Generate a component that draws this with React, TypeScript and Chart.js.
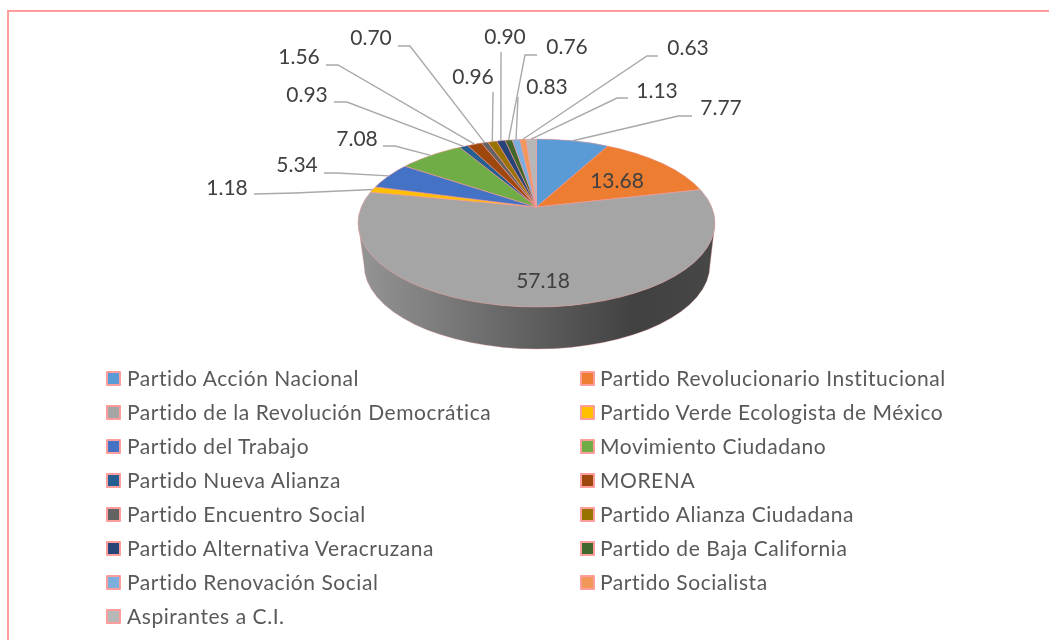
import React, { useEffect, useRef } from "react";
import { Chart, registerables } from "chart.js";

Chart.register(...registerables);

const categories = [
  "Partido Acción Nacional",
  "Partido Revolucionario Institucional",
  "Partido de la Revolución Democrática",
  "Partido Verde Ecologista de México",
  "Partido del Trabajo",
  "Movimiento Ciudadano",
  "Partido Nueva Alianza",
  "MORENA",
  "Partido Encuentro Social",
  "Partido Alianza Ciudadana",
  "Partido Alternativa Veracruzana",
  "Partido de Baja California",
  "Partido Renovación Social",
  "Partido Socialista",
  "Aspirantes a C.I.",
];
const values = [7.77, 13.68, 57.18, 1.18, 5.34, 7.08, 0.93, 1.56, 0.7, 0.96, 0.9, 0.76, 0.83, 0.63, 1.13];
const valueLabels = ["7.77", "13.68", "57.18", "1.18", "5.34", "7.08", "0.93", "1.56", "0.70", "0.96", "0.90", "0.76", "0.83", "0.63", "1.13"];
const colors = ["#5B9BD5", "#ED7D31", "#A5A5A5", "#FFC000", "#4472C4", "#70AD47", "#255E91", "#9E480E", "#636363", "#997300", "#264478", "#43682B", "#7CAFDD", "#F1975A", "#B7B7B7"];

// Label placement: text centre and leader elbow points; no elbow = label inside the slice
type Place = { x: number; y: number; elbow?: number[][] };
const places: Place[] = [
  { x: 721, y: 108, elbow: [[692, 116], [678, 116]] },
  { x: 617, y: 181 },
  { x: 543, y: 281 },
  { x: 227, y: 188, elbow: [[254, 194], [295, 193]] },
  { x: 297, y: 165, elbow: [[324, 173], [337, 173]] },
  { x: 357, y: 139, elbow: [[383, 146], [395, 146]] },
  { x: 307, y: 95, elbow: [[334, 102], [347, 102]] },
  { x: 299, y: 57, elbow: [[326, 65], [338, 65]] },
  { x: 371, y: 38, elbow: [[398, 46], [410, 46]] },
  { x: 473, y: 77, elbow: [[493, 92]] },
  { x: 505, y: 37, elbow: [[501, 52]] },
  { x: 567, y: 47, elbow: [[537, 55], [525, 55]] },
  { x: 547, y: 87, elbow: [[518, 97]] },
  { x: 688, y: 48, elbow: [[658, 56], [647, 56]] },
  { x: 657, y: 91, elbow: [[628, 98], [617, 98]] },
];

const W = 1049;
const H = 640;
const APEX = { x: 536.5, y: 207 };
const TOP = { x: 536.5, y: 223, rx: 178.5, ry: 84 };
const BOTTOM = { x: 537, y: 265, rx: 173, ry: 84 };
const TILT = 0.45;
const PINK = "#FF9C9C";
const FONT = "Lato";

const pie3d = {
  id: "pie3d",
  beforeDatasetsDraw(chart: any) {
    const ctx = chart.ctx;
    const arc0 = chart.getDatasetMeta(0).data[0];
    // wall
    ctx.save();
    const g = ctx.createLinearGradient(TOP.x - TOP.rx, 0, TOP.x + TOP.rx, 0);
    g.addColorStop(0, "#959595");
    g.addColorStop(0.3, "#747474");
    g.addColorStop(0.55, "#585858");
    g.addColorStop(0.78, "#414141");
    g.addColorStop(1, "#474747");
    ctx.beginPath();
    ctx.moveTo(TOP.x - TOP.rx, TOP.y);
    ctx.lineTo(BOTTOM.x - BOTTOM.rx, BOTTOM.y);
    ctx.ellipse(BOTTOM.x, BOTTOM.y, BOTTOM.rx, BOTTOM.ry, 0, Math.PI, 0, true);
    ctx.lineTo(TOP.x + TOP.rx, TOP.y);
    ctx.closePath();
    ctx.fillStyle = g;
    ctx.fill();
    ctx.strokeStyle = "rgba(255,156,156,0.55)";
    ctx.lineWidth = 0.6;
    ctx.stroke();
    ctx.restore();
    // top face: slices come out of the apex, clipped by the ellipse
    ctx.save();
    ctx.beginPath();
    ctx.ellipse(TOP.x, TOP.y, TOP.rx, TOP.ry, 0, 0, Math.PI * 2);
    ctx.fillStyle = "#A5A5A5";
    ctx.fill();
    ctx.clip();
    ctx.translate(APEX.x, APEX.y);
    ctx.scale(1, TILT);
    ctx.translate(-arc0.x, -arc0.y);
  },
  afterDatasetsDraw(chart: any) {
    const ctx = chart.ctx;
    ctx.restore();
    ctx.save();
    ctx.beginPath();
    ctx.ellipse(TOP.x, TOP.y, TOP.rx, TOP.ry, 0, 0, Math.PI * 2);
    ctx.strokeStyle = "rgba(255,156,156,0.75)";
    ctx.lineWidth = 0.6;
    ctx.stroke();

    const arcs = chart.getDatasetMeta(0).data;
    arcs.forEach((arc: any, i: number) => {
      const p = places[i];
      if (p.elbow) {
        // where the slice's middle ray meets the rim of the ellipse
        const a = (arc.startAngle + arc.endAngle) / 2;
        const dx = Math.cos(a);
        const dy = Math.sin(a) * TILT;
        const ox = APEX.x - TOP.x;
        const oy = APEX.y - TOP.y;
        const A = (dx * dx) / (TOP.rx * TOP.rx) + (dy * dy) / (TOP.ry * TOP.ry);
        const B = (2 * ox * dx) / (TOP.rx * TOP.rx) + (2 * oy * dy) / (TOP.ry * TOP.ry);
        const C = (ox * ox) / (TOP.rx * TOP.rx) + (oy * oy) / (TOP.ry * TOP.ry) - 1;
        const t = (-B + Math.sqrt(B * B - 4 * A * C)) / (2 * A);
        ctx.beginPath();
        ctx.moveTo(p.elbow[0][0], p.elbow[0][1]);
        p.elbow.slice(1).forEach((e) => ctx.lineTo(e[0], e[1]));
        ctx.lineTo(APEX.x + dx * t, APEX.y + dy * t);
        ctx.strokeStyle = "#A9A9A9";
        ctx.lineWidth = 1.4;
        ctx.stroke();
      }
      ctx.font = `21px ${FONT}`;
      ctx.fillStyle = "#404040";
      ctx.textAlign = "center";
      ctx.textBaseline = "middle";
      ctx.fillText(valueLabels[i], p.x, p.y);
    });
    ctx.restore();
  },
};

export default function App() {
  const ref = useRef<HTMLCanvasElement>(null);
  useEffect(() => {
    const chart = new Chart(ref.current as HTMLCanvasElement, {
      type: "pie",
      data: {
        labels: categories,
        datasets: [
          {
            data: values,
            backgroundColor: colors,
            borderColor: PINK,
            borderWidth: 0.8,
            clip: false,
          } as any,
        ],
      },
      options: {
        responsive: false,
        animation: false,
        devicePixelRatio: 1,
        radius: 640,
        layout: { padding: { left: 24, bottom: H - 414 } },
        plugins: { legend: { display: false }, tooltip: { enabled: false } },
      } as any,
      plugins: [pie3d],
    });
    return () => chart.destroy();
  }, []);

  return (
    <div style={{ position: "absolute", left: 0, top: 0, width: W, height: H, overflow: "hidden", background: "#fff" }}>
      <canvas ref={ref} width={W} height={H} style={{ display: "block", position: "absolute", left: 0, top: 0 }} />
      <div style={{ position: "absolute", left: 7, top: 10, width: W - 7, height: 2, background: "#FF9C9C" }} />
      <div style={{ position: "absolute", left: 7, top: 10, width: 2, height: H - 10, background: "#FF9C9C" }} />
      {categories.map((c, i) => {
        const col = i % 2;
        const row = Math.floor(i / 2);
        const left = col === 0 ? 106 : 580;
        const top = 368 + row * 34;
        return (
          <div key={c} style={{ position: "absolute", left, top, height: 22, whiteSpace: "nowrap" }}>
            <span
              style={{
                position: "absolute",
                left: 0,
                top: 3,
                width: 11,
                height: 11,
                background: colors[i],
                border: "2.5px solid #FF9C9C",
                borderRadius: 1,
              }}
            />
            <span
              style={{
                position: "absolute",
                left: col === 0 ? 21 : 20,
                top: -1,
                font: `21px ${FONT}`,
                letterSpacing: "0.55px",
                lineHeight: "22px",
                color: "#595959",
              }}
            >
              {c}
            </span>
          </div>
        );
      })}
    </div>
  );
}
